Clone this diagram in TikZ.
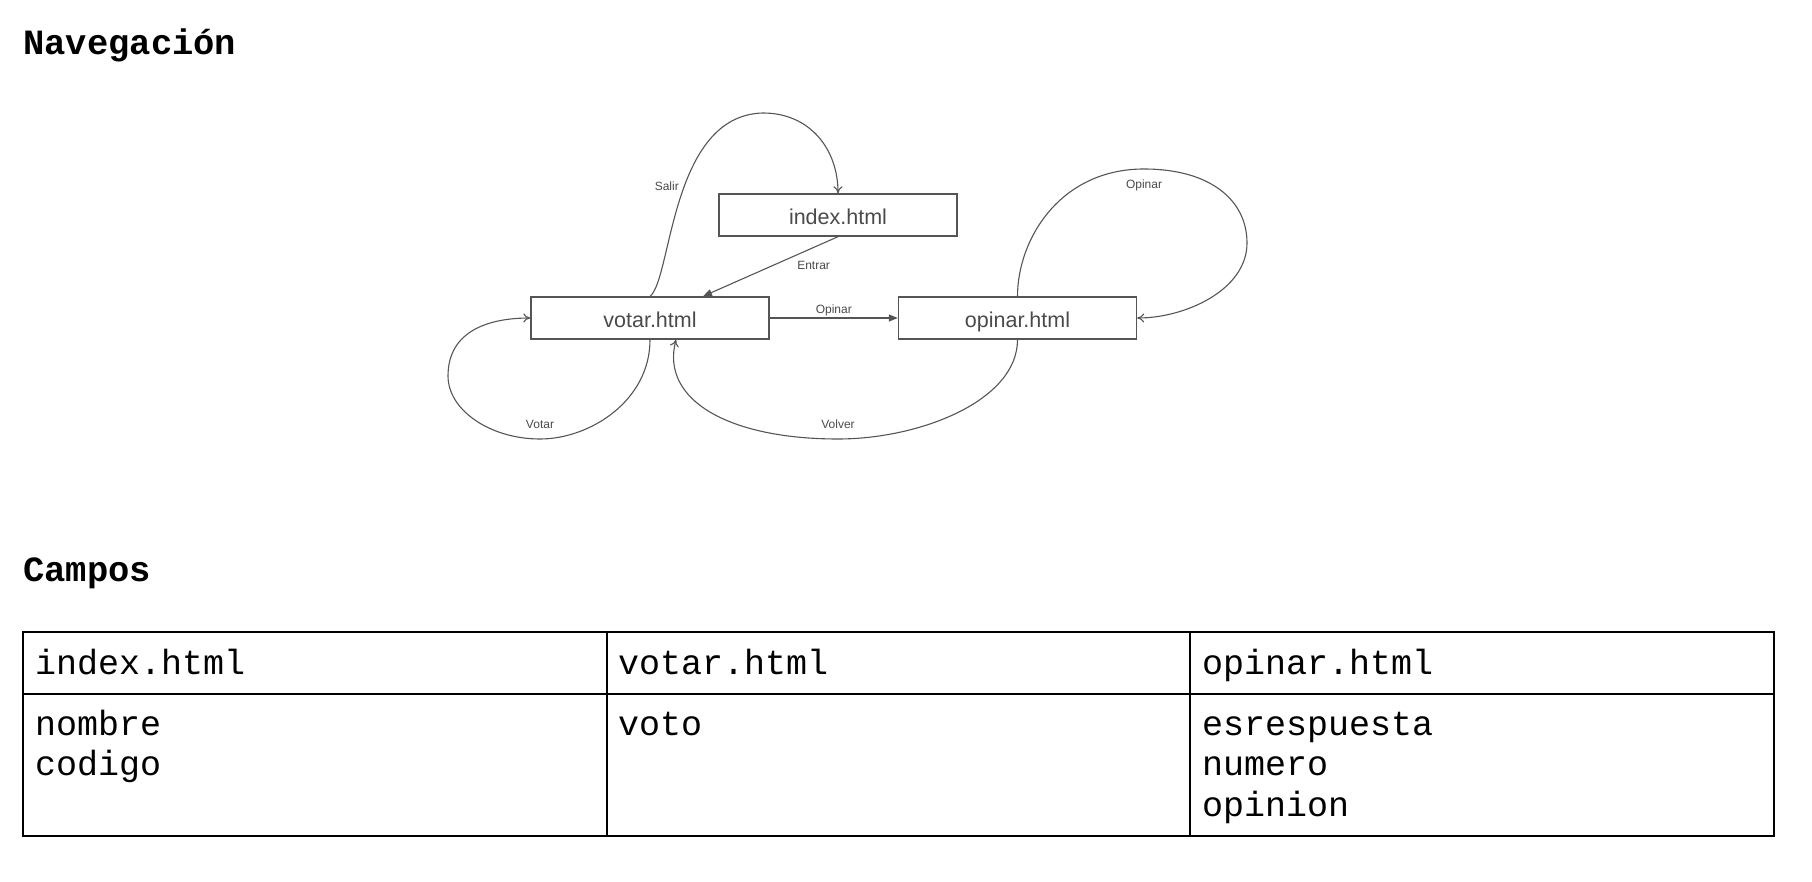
\documentclass[tikz,border=0pt]{standalone}
\usepackage{fontspec}
\setmainfont{Liberation Sans}
\setmonofont{Liberation Mono}
\usetikzlibrary{arrows.meta}
\definecolor{NavGray}{HTML}{555555}
\definecolor{NavText}{HTML}{4A4A4A}

\begin{document}
\begin{tikzpicture}[x=1pt,y=-1pt,
    page/.style={draw=NavGray,line width=1.4pt,minimum width=238pt,minimum height=42pt,inner sep=0pt,text height=24pt,text depth=4pt,text=NavText,font=\fontsize{21.5}{24}\selectfont},
    link/.style={NavGray,line width=1.1pt},
    lbl/.style={text=NavText,font=\fontsize{12}{14}\selectfont,inner sep=2pt},
    title/.style={anchor=west,inner sep=0pt,font=\ttfamily\bfseries\fontsize{35.5}{40}\selectfont},
    cell/.style={anchor=base west,inner sep=0pt,font=\ttfamily\fontsize{35}{40.5}\selectfont},
    fields/.style={anchor=base west,inner sep=0pt,align=left,font=\ttfamily\fontsize{35}{40.5}\selectfont}]
  \useasboundingbox (0,0) rectangle (1812,882);

  \node[title] at (23,45)  (navtitle) {Navegación};
  \node[title] at (23,573) (camptitle) {Campos};

  \node[page] at (838,215)    (index)  {index.html};
  \node[page] at (650,318)    (votar)  {votar.html};
  \node[page] at (1017.5,318) (opinar) {opinar.html};

  \draw[link,-{To[length=7pt,width=9pt]}] (votar.north) .. controls +(22,-17) and +(-93,2) .. (763,113)
    node[lbl,pos=0.55,left=3pt] {Salir}
    .. controls +(47,0) and +(0,-44) .. (index.north);
  \draw[link,-{Triangle[length=9pt,width=7pt]}] (index.south) -- ([xshift=53pt]votar.north)
    node[lbl,pos=0.35,right=4pt,yshift=-8pt] {Entrar};
  \draw[link,-{Triangle[length=9pt,width=7pt]}] (votar.east) -- (opinar.west)
    node[lbl,midway,above=-1pt] {Opinar};
  \draw[link,-{To[length=7pt,width=9pt]}] (opinar.north) .. controls +(0,-57) and +(-84,0) .. (1144,169)
    node[lbl,below=8pt] {Opinar}
    .. controls +(66,0) and +(0,-43) .. (1247,243)
    .. controls +(0,47) and +(48,0) .. (opinar.east);
  \draw[link,-{To[length=7pt,width=9pt]}] (votar.south) .. controls +(0,61) and +(50,0) .. (540,439)
    node[lbl,above=8pt] {Votar}
    .. controls +(-50,0) and +(0,34) .. (448,376)
    .. controls +(0,-46) and +(-40,0) .. (votar.west);
  \draw[link,-{To[length=7pt,width=9pt]}] (opinar.south) .. controls +(0,61) and +(82,0) .. (838,439)
    node[lbl,above=8pt] {Volver}
    .. controls +(-108,0) and +(-16,61) .. ([xshift=26pt]votar.south);

  % tabla de campos
  \draw[line width=1.8pt] (23,632) rectangle (1774,836);
  \draw[line width=1.8pt] (23,694) -- (1774,694);
  \draw[line width=1.8pt] (607,632) -- (607,836);
  \draw[line width=1.8pt] (1190,632) -- (1190,836);

  \node[cell] at (35,674)   (hindex)  {index.html};
  \node[cell] at (618,674)  (hvotar)  {votar.html};
  \node[cell] at (1202,674) (hopinar) {opinar.html};
  % base = ultima linea
  \node[fields] at (35,775.5) (findex)  {nombre\\codigo};
  \node[fields] at (618,735)  (fvotar)  {voto};
  \node[fields] at (1202,816) (fopinar) {esrespuesta\\numero\\opinion};
\end{tikzpicture}
\end{document}
